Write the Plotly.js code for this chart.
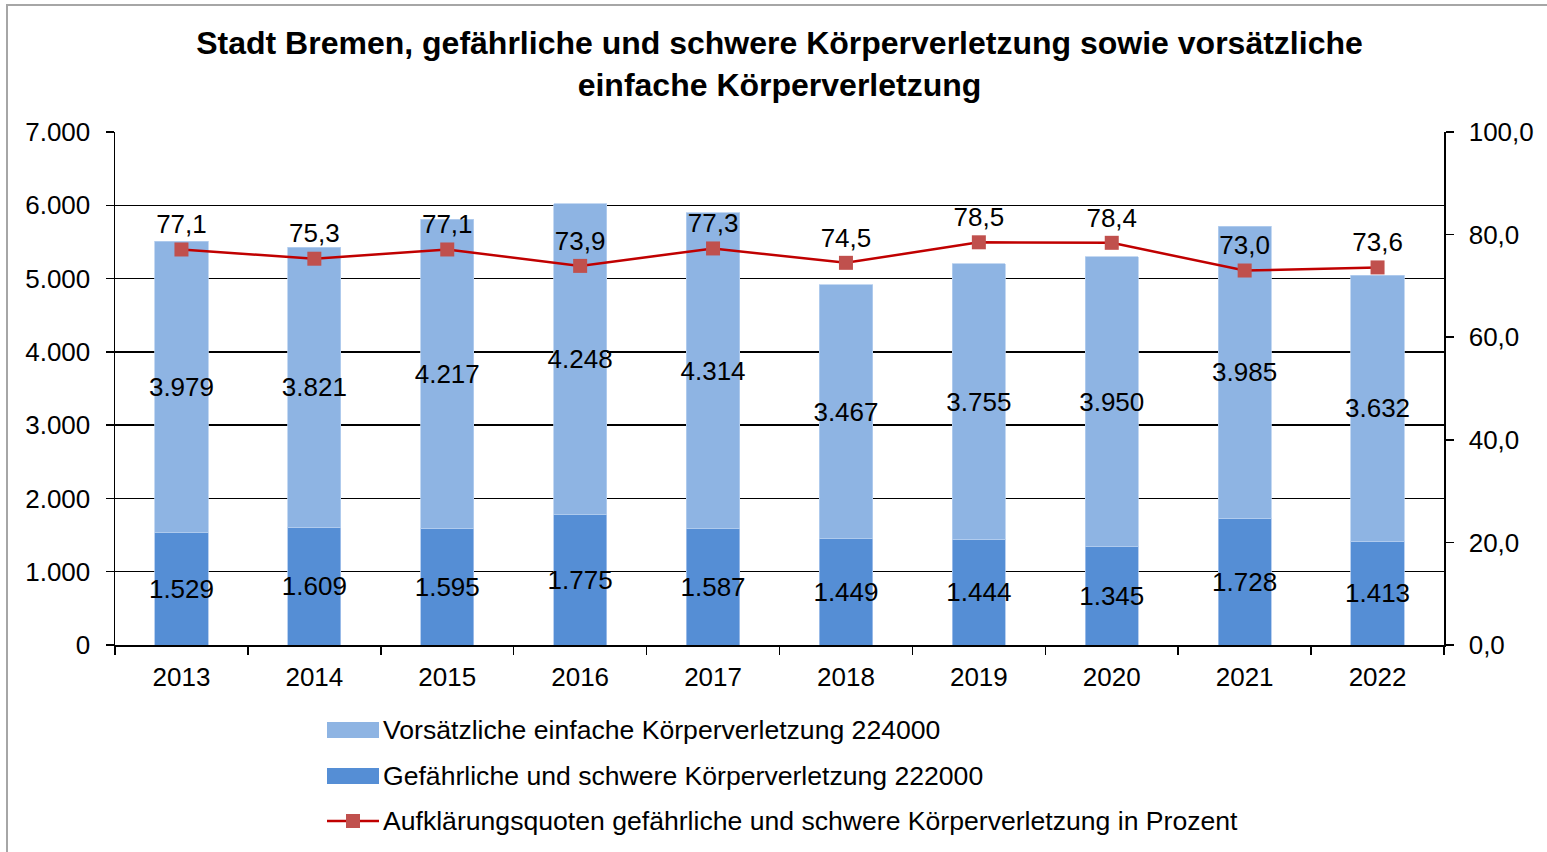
<!DOCTYPE html>
<html>
<head>
<meta charset="utf-8">
<script src="https://cdn.plot.ly/plotly-3.0.1.min.js"></script>
<style>
  html, body { margin: 0; padding: 0; background: #fff; }
  #chart { width: 1547px; height: 852px; }
</style>
</head>
<body>
<div id="chart"></div>
<script>
const years = ['2013','2014','2015','2016','2017','2018','2019','2020','2021','2022'];
const gefaehrlich = [1529, 1609, 1595, 1775, 1587, 1449, 1444, 1345, 1728, 1413];
const vorsaetzlich = [3979, 3821, 4217, 4248, 4314, 3467, 3755, 3950, 3985, 3632];
const quote = [77.1, 75.3, 77.1, 73.9, 77.3, 74.5, 78.5, 78.4, 73.0, 73.6];

const nameVors = 'Vorsätzliche einfache Körperverletzung 224000';
const nameGef = 'Gefährliche und schwere Körperverletzung 222000';
const nameQuote = 'Aufklärungsquoten gefährliche und schwere Körperverletzung in Prozent';

const FONT = 'Liberation Sans, Arial, sans-serif';
const FS = 26;
const C_LIGHT = '#8EB4E3', C_DARK = '#558ED5', C_LINE = '#C00000', C_MARK = '#C0504D';

// plot area in pixels (for layout-only helpers: legend & frame)
const PL = 115, PR = 1444, PT = 132, PB = 645;
const px2x = p => (p - PL) / (PR - PL);
const px2y = p => (PB - p) / (PB - PT);

const traces = [
  {
    type: 'bar', name: nameGef, x: years, y: gefaehrlich,
    marker: { color: C_DARK, line: { color: '#A9C6EC', width: 0.8 } },
    texttemplate: '%{y:,d}', textposition: 'inside', insidetextanchor: 'middle',
    constraintext: 'none', textangle: 0,
    textfont: { family: FONT, size: FS, color: '#000' },
    showlegend: false, hoverinfo: 'skip'
  },
  {
    type: 'bar', name: nameVors, x: years, y: vorsaetzlich,
    marker: { color: C_LIGHT, line: { color: '#B7D0EF', width: 0.8 } },
    texttemplate: '%{y:,d}', textposition: 'inside', insidetextanchor: 'middle',
    constraintext: 'none', textangle: 0,
    textfont: { family: FONT, size: FS, color: '#000' },
    showlegend: false, hoverinfo: 'skip'
  },
  {
    type: 'scatter', mode: 'lines+markers+text', name: nameQuote, x: years, y: quote,
    yaxis: 'y2',
    line: { color: C_LINE, width: 2.5 },
    marker: { symbol: 'square', size: 14, color: C_MARK },
    texttemplate: '%{y:.1f}', textposition: 'top center',
    textfont: { family: FONT, size: FS, color: '#000' },
    cliponaxis: false,
    showlegend: false, hoverinfo: 'skip'
  }
];

// Legend drawn as layout items (wide swatches like the original)
const LFS = 26.6;
const legendItems = [
  { name: nameVors, kind: 'box', color: C_LIGHT, cy: 730 },
  { name: nameGef, kind: 'box', color: C_DARK, cy: 776 },
  { name: nameQuote, kind: 'line', color: C_LINE, cy: 821 }
];
const shapes = [
  {
    type: 'rect', xref: 'paper', yref: 'paper',
    x0: px2x(7), x1: 1.2, y0: -0.6, y1: px2y(5),
    line: { color: '#A6A6A6', width: 2 }, fillcolor: 'rgba(0,0,0,0)', layer: 'above'
  }
];
const annotations = [];
legendItems.forEach(it => {
  if (it.kind === 'box') {
    shapes.push({ type: 'rect', xref: 'paper', yref: 'paper',
      x0: px2x(327), x1: px2x(379), y0: px2y(it.cy + 8), y1: px2y(it.cy - 8),
      line: { width: 0 }, fillcolor: it.color });
  } else {
    shapes.push({ type: 'line', xref: 'paper', yref: 'paper',
      x0: px2x(327), x1: px2x(379), y0: px2y(it.cy), y1: px2y(it.cy),
      line: { color: it.color, width: 2.5 } });
    shapes.push({ type: 'rect', xref: 'paper', yref: 'paper',
      x0: px2x(346), x1: px2x(360), y0: px2y(it.cy + 7), y1: px2y(it.cy - 7),
      line: { width: 0 }, fillcolor: C_MARK });
  }
  annotations.push({ xref: 'paper', yref: 'paper', x: px2x(381), y: px2y(it.cy),
    xanchor: 'left', yanchor: 'middle', showarrow: false, text: it.name,
    font: { family: FONT, size: LFS, color: '#000' } });
});

const layout = {
  width: 1547, height: 852,
  paper_bgcolor: '#fff', plot_bgcolor: '#fff',
  separators: ',.',
  barmode: 'stack', bargap: 0.6,
  font: { family: FONT, size: FS, color: '#000' },
  margin: { l: PL, r: 1547 - PR, t: PT, b: 852 - PB, autoexpand: false },
  title: {
    text: '<b>Stadt Bremen, gefährliche und schwere Körperverletzung sowie vorsätzliche<br>einfache Körperverletzung</b>',
    font: { family: FONT, size: 32, color: '#000' },
    x: 0.5, xref: 'paper', xanchor: 'center',
    y: 1 - 54 / 852, yref: 'container', yanchor: 'middle'
  },
  xaxis: {
    type: 'category', range: [-0.5, 9.5], tickson: 'boundaries', ticks: 'outside', ticklen: 8,
    tickcolor: '#000', tickwidth: 1.5, ticklabelstandoff: 8,
    showline: true, linecolor: '#000', linewidth: 1.5,
    showgrid: false, tickfont: { family: FONT, size: FS, color: '#000' }
  },
  yaxis: {
    range: [0, 7000], dtick: 1000, tick0: 0, tickformat: ',d',
    ticks: 'outside', ticklen: 8, tickcolor: '#000', tickwidth: 1.5, ticklabelstandoff: 10,
    showline: true, linecolor: '#000', linewidth: 1.5,
    showgrid: true, gridcolor: '#000', gridwidth: 1.3, zeroline: false,
    tickfont: { family: FONT, size: FS, color: '#000' }, fixedrange: true
  },
  yaxis2: {
    overlaying: 'y', side: 'right', range: [0, 100], dtick: 20, tick0: 0,
    tickformat: '.1f', ticks: 'outside', ticklen: 8, tickcolor: '#000', tickwidth: 1.5,
    ticklabelstandoff: 10,
    showline: true, linecolor: '#000', linewidth: 1.5,
    showgrid: false, zeroline: false,
    tickfont: { family: FONT, size: FS, color: '#000' }, fixedrange: true
  },
  showlegend: false,
  shapes: shapes,
  annotations: annotations
};

Plotly.newPlot('chart', traces, layout, { displayModeBar: false, staticPlot: true });
</script>
</body>
</html>
